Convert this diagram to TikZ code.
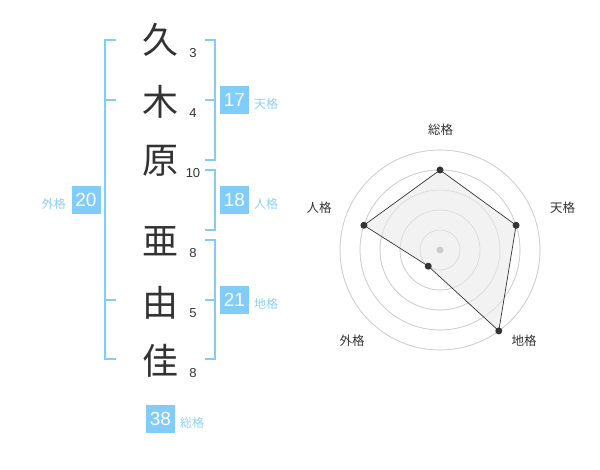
\documentclass[tikz,border=0pt]{standalone}
\usepackage{fontspec}
\setmainfont{Liberation Sans}
\newfontfamily\jp{Noto Sans CJK JP}
\definecolor{bblue}{HTML}{82CCFA}
\definecolor{lblue}{HTML}{8DD0F7}
\definecolor{dark}{HTML}{333333}
\definecolor{ring}{HTML}{CCCCCC}
\definecolor{polyfill}{HTML}{F0F0F0}
\tikzset{
  kanji/.style={text=dark,font=\jp\fontsize{36}{36}\selectfont,inner sep=0pt},
  strokes/.style={text=dark,font=\fontsize{13}{13}\selectfont,inner sep=0pt},
  bracket/.style={draw=bblue,line width=2pt},
  numbox/.style={fill=bblue,text=white,minimum width=29pt,minimum height=28pt,inner sep=0pt,font=\fontsize{19}{19}\selectfont},
  kaku/.style={text=lblue,font=\jp\fontsize{12}{12}\selectfont,inner sep=0pt},
  radlabel/.style={text=dark,font=\jp\fontsize{12.5}{12.5}\selectfont,inner sep=0pt},
  ringline/.style={draw=ring,line width=0.7pt},
  vdot/.style={circle,fill=dark,inner sep=0pt,minimum size=7pt},
}
\begin{document}
\begin{tikzpicture}[x=1pt,y=-1pt]
\useasboundingbox (0,0) rectangle (600,470);
% kanji
\node[kanji] (k1) at (160,40) {久};
\node[kanji] (k2) at (160,102) {木};
\node[kanji] (k3) at (160,161) {原};
\node[kanji] (k4) at (160,241) {亜};
\node[kanji] (k5) at (160,303) {由};
\node[kanji] (k6) at (160,361) {佳};
% stroke counts
\node[strokes] (s1) at (193,53) {3};
\node[strokes] (s2) at (193,113) {4};
\node[strokes] (s3) at (193,173) {10};
\node[strokes] (s4) at (193,253) {8};
\node[strokes] (s5) at (193,313) {5};
\node[strokes] (s6) at (193,373) {8};
% left bracket (gaikaku)
\draw[bracket] (116,40) -- (105,40) -- (105,359) -- (116,359);
\draw[bracket] (105,100) -- (116,100);
\draw[bracket] (105,300) -- (116,300);
% right brackets
\draw[bracket] (205,40) -- (215,40) -- (215,160) -- (205,160);
\draw[bracket] (215,100) -- (205,100);
\draw[bracket] (205,170) -- (215,170) -- (215,230) -- (205,230);
\draw[bracket] (205,240) -- (215,240) -- (215,359) -- (205,359);
\draw[bracket] (215,300) -- (205,300);
% boxes
\node[numbox] (b17) at (234.5,100) {17};
\node[kaku,anchor=west] (l17) at (254,104) {天格};
\node[numbox] (b18) at (234.5,200) {18};
\node[kaku,anchor=west] (l18) at (254,204) {人格};
\node[numbox] (b21) at (234.5,300) {21};
\node[kaku,anchor=west] (l21) at (254,304) {地格};
\node[numbox] (b20) at (86,200) {20};
\node[kaku,anchor=east] (l20) at (66,204) {外格};
\node[numbox] (b38) at (160.5,419) {38};
\node[kaku,anchor=west] (l38) at (180,423) {総格};
% radar
\coordinate (c) at (440,250);
\foreach \r in {20,40,60,80,100} \draw[ringline] (c) circle[radius=\r];
\coordinate (p1) at (440,170);
\coordinate (p2) at (516.08,225.28);
\coordinate (p3) at (498.78,330.90);
\coordinate (p4) at (428.24,266.18);
\coordinate (p5) at (363.92,225.28);
\fill[polyfill,opacity=0.85] (p1) -- (p2) -- (p3) -- (p4) -- (p5) -- cycle;
\foreach \r in {20,40,60,80,100} \draw[ring,line width=0.5pt,opacity=0.6] (c) circle[radius=\r];
\draw[dark,line width=0.7pt] (p1) -- (p2) -- (p3) -- (p4) -- (p5) -- cycle;
\fill[ring] (c) circle[radius=3.5];
\foreach \p in {p1,p2,p3,p4,p5} \node[vdot] at (\p) {};
\node[radlabel] (r1) at (440.5,130) {総格};
\node[radlabel] (r2) at (562.5,208) {天格};
\node[radlabel] (r3) at (524,341) {地格};
\node[radlabel] (r4) at (352,341) {外格};
\node[radlabel] (r5) at (319,208) {人格};
\end{tikzpicture}
\end{document}
